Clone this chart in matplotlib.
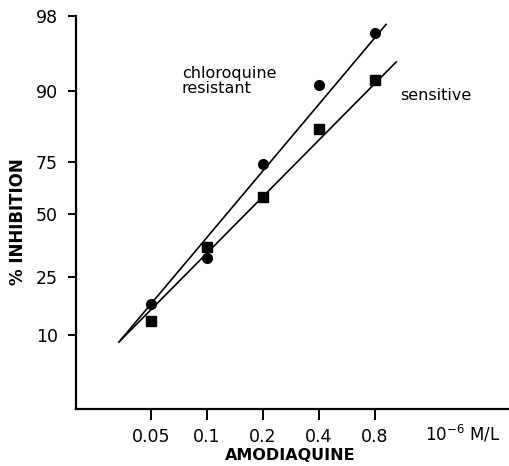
import matplotlib
matplotlib.use("Agg")
import matplotlib.pyplot as plt
import numpy as np

# concentration (10^-6 M/L) and % inhibition
conc = [0.05, 0.1, 0.2, 0.4, 0.8]
resistant = [18.0, 32.5, 74.0, 90.6, 96.2]
sensitive = [13.6, 36.9, 58.2, 82.0, 91.2]

# hand-drawn fit lines (end points)
res_line_x = [0.0337, 0.917]
res_line_y = [8.2, 97.1]
sens_line_x = [0.0337, 1.04]
sens_line_y = [8.2, 93.1]

yticks = [10, 25, 50, 75, 90, 98]
xticks = [0.05, 0.1, 0.2, 0.4, 0.8]
xticklabels = ["0.05", "0.1", "0.2", "0.4", "0.8"]

# the printed probability axis is hand spaced, so map it piecewise
pct_knots = np.array([-9.1, 10, 25, 50, 75, 90, 98, 120])
pos_knots = np.array([0, 74, 132, 195, 247, 318, 393, 693])


def fwd(p):
    return np.interp(p, pct_knots, pos_knots)


def inv(v):
    return np.interp(v, pos_knots, pct_knots)


fig = plt.figure(figsize=(5.1, 4.66), dpi=100)
ax = fig.add_axes([76 / 510, 57 / 466, 434 / 510, 393 / 466])

ax.set_xscale("log", base=2)
ax.set_yscale("function", functions=(fwd, inv))
ax.set_xlim(0.0198, 4.25)
ax.set_ylim(-9.1, 98)

ax.plot(res_line_x, res_line_y, color="black", lw=1.2)
ax.plot(sens_line_x, sens_line_y, color="black", lw=1.2)
ax.plot(conc, resistant, "o", color="black", ms=7, clip_on=False)
ax.plot(conc, sensitive, "s", color="black", ms=6.5, clip_on=False)

for s in ["top", "right"]:
    ax.spines[s].set_visible(False)
for s in ["left", "bottom"]:
    ax.spines[s].set_linewidth(1.6)

ax.set_xticks(xticks)
ax.set_xticklabels(xticklabels)
ax.minorticks_off()
ax.set_yticks(yticks)
ax.set_yticklabels([str(t) for t in yticks])
ax.tick_params(axis="both", direction="out", length=8, width=1.4,
               labelsize=12.5, pad=6)
ax.tick_params(axis="y", length=6, pad=7)

ax.text(182 / 510, 1 - 81 / 466, "chloroquine\nresistant", transform=fig.transFigure,
        fontsize=11.5, ha="left", va="center", linespacing=1.0)
ax.text(400 / 510, 1 - 96 / 466, "sensitive", transform=fig.transFigure,
        fontsize=11.5, ha="left", va="center")
ax.text(425 / 510, 1 - 434 / 466, r"10$^{-6}$ M/L", transform=fig.transFigure,
        fontsize=12, ha="left", va="center")
fig.text(290 / 510, 1 - 455 / 466, "AMODIAQUINE", fontsize=11.5,
         ha="center", va="center", fontweight="bold")
fig.text(18 / 510, 1 - 222 / 466, "% INHIBITION", fontsize=12,
         ha="center", va="center", rotation=90, fontweight="bold")

fig.savefig("out.png", dpi=100)
